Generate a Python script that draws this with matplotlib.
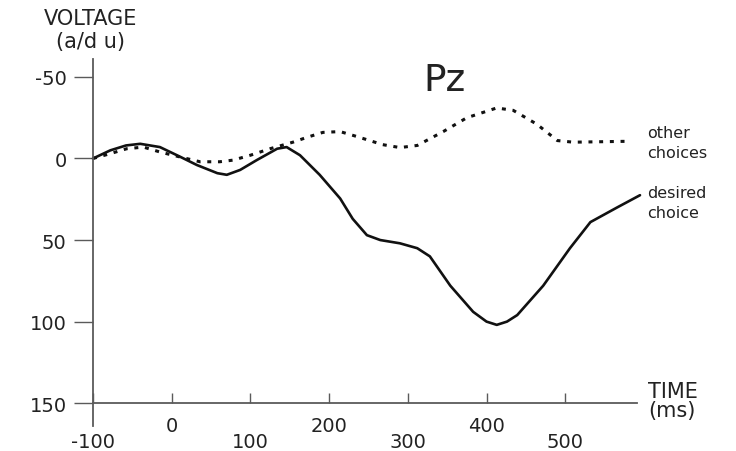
import matplotlib
matplotlib.use("Agg")
import matplotlib.pyplot as plt

# --- data (time in ms, voltage in a/d units, negative up) ---
desired_t = [-100, -78, -58, -40, -15, 11, 32, 58, 70, 87, 108, 134, 146, 163,
             188, 214, 230, 248, 265, 290, 312, 328, 354, 383, 400, 413, 426,
             439, 472, 506, 532, 566, 595]
desired_v = [0, -5, -8, -9, -7, -1, 4, 9, 10, 7, 1, -6, -7, -2,
             10, 24.5, 37, 47, 50, 52, 55, 60, 78, 94, 100, 102, 100,
             96, 78, 55, 39, 30, 22.5]

other_t = [-100, -78, -57, -36, -15, 10, 36, 61, 78, 100, 125, 154, 172, 192,
           214, 235, 268, 290, 312, 345, 375, 413, 434, 464, 490, 510, 573, 579]
other_v = [0, -3, -6, -7, -4, -1, 2, 2, 1, -2, -6, -10, -13, -16,
           -16.5, -13.5, -8.5, -6.7, -8, -16.5, -25, -31, -29.5, -21, -11, -10, -10.5, -10.5]

y_ticks = [-50, 0, 50, 100, 150]
y_labels = ["-50", "0", "50", "100", "150"]
x_ticks_high = [0, 200, 400]
x_ticks_low = [-100, 100, 300, 500]

W, H = 736, 452
AXIS_COLOR = "#5a5a5a"
TEXT_COLOR = "#222222"

fig = plt.figure(figsize=(W / 100, H / 100), dpi=100)
ax = fig.add_axes([93 / W, 1 - 427 / H, 547 / W, 367 / H])

ax.plot(desired_t, desired_v, color="#111111", lw=1.9, clip_on=False,
        solid_capstyle="round", solid_joinstyle="round")
ax.plot(other_t, other_v, color="#111111", lw=2.2, clip_on=False,
        linestyle=(0, (1.3, 2.2)), dash_capstyle="butt")

ax.set_xlim(-100, 595)
ax.set_ylim(164, -61)

for side in ["top", "right"]:
    ax.spines[side].set_visible(False)
ax.spines["left"].set_color(AXIS_COLOR)
ax.spines["left"].set_linewidth(1.3)
ax.spines["bottom"].set_position(("data", 150))
ax.spines["bottom"].set_bounds(-100, 591)
ax.spines["bottom"].set_color(AXIS_COLOR)
ax.spines["bottom"].set_linewidth(1.3)

ax.set_yticks(y_ticks, labels=y_labels)
ax.tick_params(axis="y", direction="out", length=14, width=1.0,
               color=AXIS_COLOR, pad=5, labelsize=14, labelcolor=TEXT_COLOR)

ax.set_xticks(x_ticks_high, labels=[str(v) for v in x_ticks_high])
ax.set_xticks(x_ticks_low, labels=[str(v) for v in x_ticks_low], minor=True)
ax.tick_params(axis="x", which="major", direction="in", length=7, width=1.0,
               color=AXIS_COLOR, pad=9, labelsize=14, labelcolor=TEXT_COLOR)
ax.tick_params(axis="x", which="minor", direction="in", length=7, width=1.0,
               color=AXIS_COLOR, pad=20.5, labelsize=14, labelcolor=TEXT_COLOR)


def fig_text(px, py, s, **kw):
    fig.text(px / W, 1 - py / H, s, color=TEXT_COLOR, **kw)


fig_text(91, 19, "VOLTAGE", fontsize=15, ha="center", va="center")
fig_text(90, 42, "(a/d u)", fontsize=15, ha="center", va="center")
fig_text(423, 81, "Pz", fontsize=27, ha="left", va="center")
fig_text(647, 133, "other", fontsize=11.5, ha="left", va="center")
fig_text(647, 154, "choices", fontsize=11.5, ha="left", va="center")
fig_text(647, 193, "desired", fontsize=11.5, ha="left", va="center")
fig_text(647, 214, "choice", fontsize=11.5, ha="left", va="center")
fig_text(648, 392, "TIME", fontsize=15, ha="left", va="center")
fig_text(648, 411, "(ms)", fontsize=15, ha="left", va="center")

fig.savefig("out.png", dpi=100)
